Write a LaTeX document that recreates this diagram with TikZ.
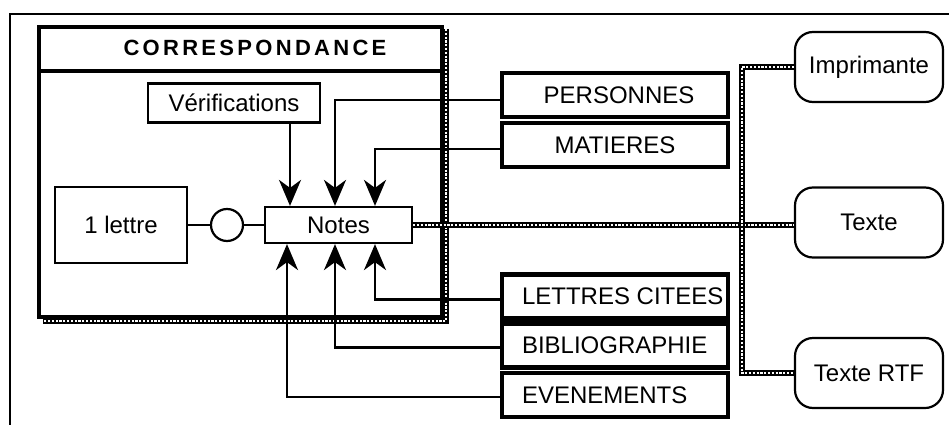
\documentclass[tikz,border=0pt]{standalone}
\usepackage{fontspec}
\setmainfont{Liberation Sans}
\usetikzlibrary{arrows.meta}
\begin{document}
\begin{tikzpicture}[x=1pt,y=-1pt,
  every node/.style={font=\fontsize{24}{28}\selectfont, inner sep=0pt},
  thinbox/.style={draw, line width=2.2pt},
  tablebox/.style={draw, line width=4.5pt, minimum width=226pt, minimum height=44pt},
  outbox/.style={draw, line width=2.2pt, rounded corners=18pt, minimum width=148pt, minimum height=70pt},
  conn/.style={line width=2.2pt},
  arr/.style={line width=2.2pt, -{Stealth[length=26pt,width=22pt,inset=8pt]}},
  pat/.style={line width=6.5pt, black, postaction={draw, white, line width=2.6pt, dash pattern=on 2.2pt off 1.6pt}}
]
\useasboundingbox (0,0) rectangle (949,425);
% outer frame
\draw[line width=2.5pt] (10,425) -- (10,14) -- (949,14);
% correspondance frame
\draw[pat] (446,29) -- (446,321) -- (43,321);
\node[draw, line width=4pt, minimum width=403pt, minimum height=290pt, anchor=north west] (corr) at (37,25) {};
\coordinate (tsep) at (0,71);
\draw[line width=4pt] (corr.west |- tsep) -- (corr.east |- tsep);
\node[font=\fontsize{22}{26}\selectfont\bfseries\addfontfeature{LetterSpace=15}] (title) at (255,48) {CORRESPONDANCE};
% inner boxes
\node[thinbox, minimum width=172pt, minimum height=39pt] (verif) at (234,103) {Vérifications};
\node[thinbox, minimum width=147pt, minimum height=36pt] (notes) at (338.5,225) {Notes};
\node[thinbox, minimum width=132pt, minimum height=76pt] (lettre) at (121,225) {1 lettre};
\node[draw, circle, line width=2.2pt, minimum size=32pt] (circ) at (227,225) {};
\draw[conn] (lettre.east) -- (circ.west);
\draw[conn] (circ.east) -- (notes.west);
% table boxes
\node[tablebox] (pers) at (615,95) {\makebox[206pt][c]{\hspace*{8pt}PERSONNES}};
\node[tablebox] (mat) at (615,145) {\makebox[206pt][c]{MATIERES}};
\node[tablebox] (lc) at (615,296.5) {\makebox[206pt][l]{\hspace*{10pt}LETTRES CITEES}};
\node[tablebox] (bib) at (615,345.5) {\makebox[206pt][l]{\hspace*{10pt}BIBLIOGRAPHIE}};
\node[tablebox] (evt) at (615,395) {\makebox[206pt][l]{\hspace*{10pt}EVENEMENTS}};
% output boxes
\node[outbox] (impr) at (869,67) {Imprimante};
\node[outbox] (texte) at (869,222.5) {Texte};
\node[outbox] (rtf) at (869,373) {Texte RTF};
% arrows
\coordinate (a1) at (290,0);
\coordinate (a2) at (335,0);
\coordinate (a3) at (375,0);
\coordinate (b1) at (287,0);
\draw[arr] (verif.south -| a1) -- (notes.north -| a1);
\draw[arr] ([yshift=-5pt]pers.west) -| (notes.north -| a2);
\draw[arr] ([yshift=-4pt]mat.west) -| (notes.north -| a3);
\draw[arr] ([yshift=-3pt]lc.west) -| (notes.south -| a3);
\draw[arr] ([yshift=-2pt]bib.west) -| (notes.south -| a2);
\draw[arr] ([yshift=-2pt]evt.west) -| (notes.south -| b1);
% output connectors
\coordinate (bus) at (742,0);
\draw[pat] (notes.east) -- (texte.west |- notes.east);
\draw[pat] (impr.west) -- (impr.west -| bus) -- (rtf.west -| bus) -- (rtf.west);
\end{tikzpicture}
\end{document}
